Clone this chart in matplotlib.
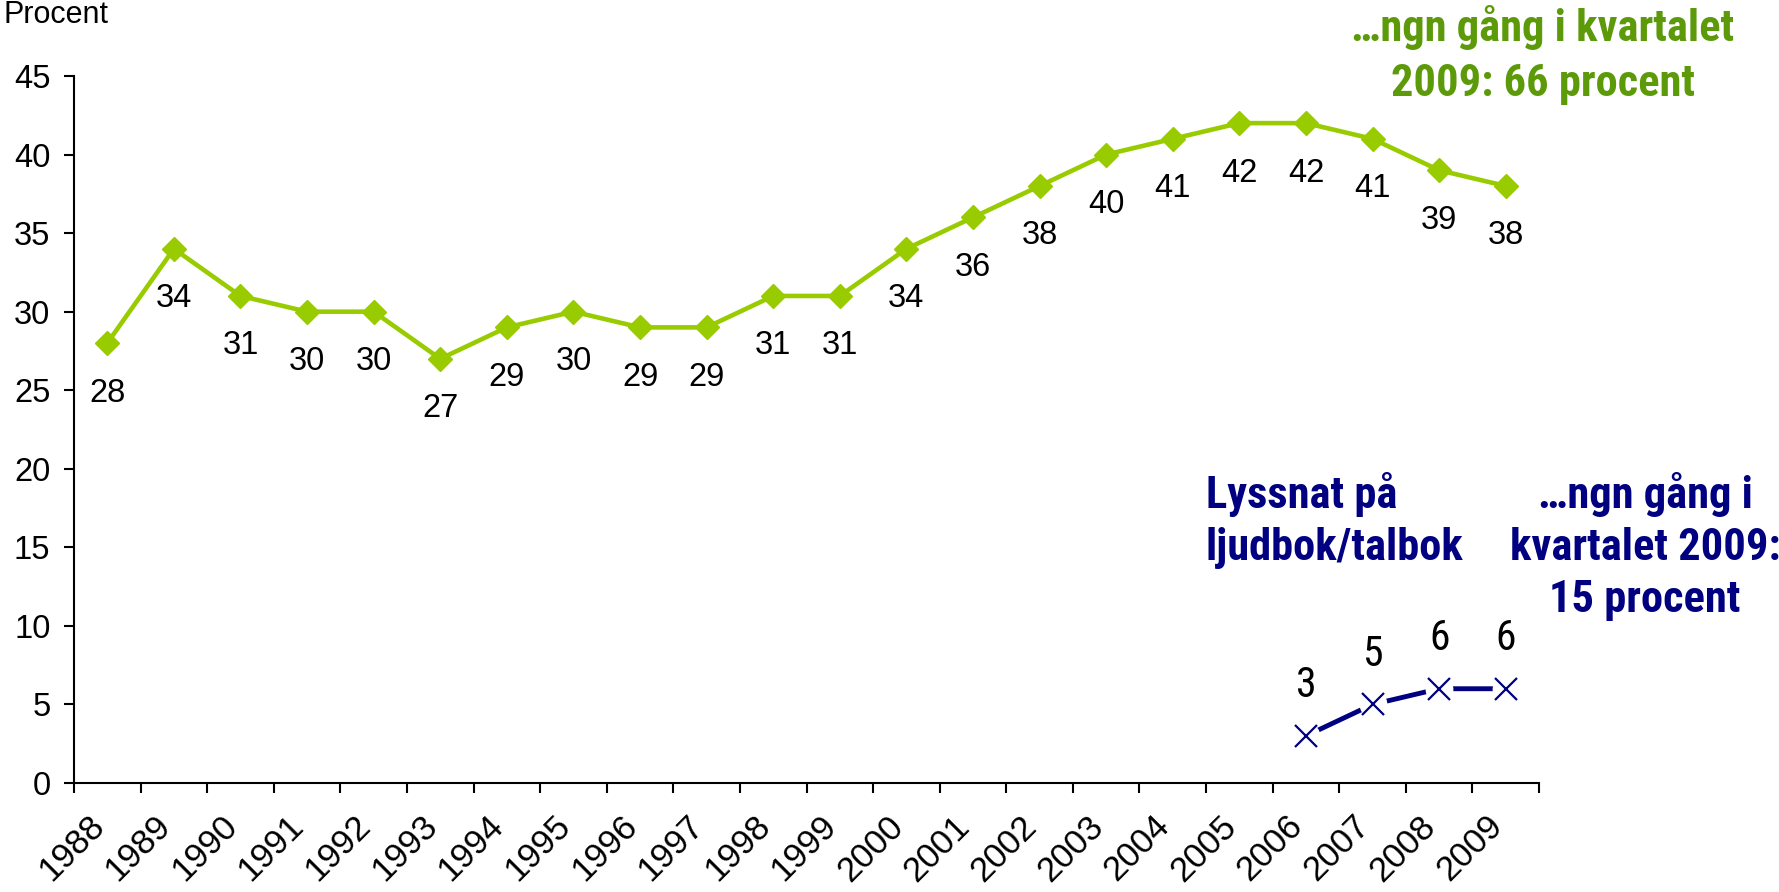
import matplotlib
matplotlib.use("Agg")
from matplotlib import pyplot as plt
import matplotlib.ticker as mticker
import matplotlib.transforms as mtrans
from matplotlib import font_manager

# DATA
years = [str(y) for y in range(1988, 2010)]
read_any = [28, 34, 31, 30, 30, 27, 29, 30, 29, 29, 31, 31,
            34, 36, 38, 40, 41, 42, 42, 41, 39, 38]
audio_years = ["2006", "2007", "2008", "2009"]
audio_book = [3, 5, 6, 6]
y_ticks = [0, 5, 10, 15, 20, 25, 30, 35, 40, 45]

GREEN = "#99CC00"
GREEN_TXT = "#5C9A0A"
NAVY = "#000080"


def pick_narrow():
    """
        look for a condensed sans font, like Arial Narrow
    """
    names = {f.name for f in font_manager.fontManager.ttflist}
    for cand in ["Liberation Sans Narrow", "Arial Narrow", "Roboto Condensed",
                 "Noto Sans Condensed", "Open Sans Condensed",
                 "DejaVu Sans Condensed", "Noto Sans SemiCondensed"]:
        if cand in names:
            return cand, "normal"
    for f in font_manager.fontManager.ttflist:
        if f.stretch in ("condensed", "semi-condensed", 75, 87.5) \
                and f.name in ("Noto Sans", "Roboto", "Open Sans", "DejaVu Sans"):
            return f.name, "condensed"
    return None, "normal"


narrow_name, narrow_stretch = pick_narrow()
NARROW = ([narrow_name] if narrow_name else []) + ["Liberation Sans", "DejaVu Sans"]
# without a narrow face the bold text has to be smaller to keep its width
BIG = 32 if narrow_name else 26

plt.rcParams["font.family"] = ["Liberation Sans", "DejaVu Sans"]

# SET PLOT
fig = plt.figure(figsize=(17.79, 8.92), dpi=100)
ax = fig.add_axes([0.0416, 0.1222, 0.8235, 0.7926])

xi = list(range(len(years)))
ax_idx = [years.index(y) for y in audio_years]

# green series
ax.plot(xi, read_any, color=GREEN, lw=3.3, marker="D", ms=12,
        mfc=GREEN, mec=GREEN, zorder=3)
for i, v in zip(xi, read_any):
    ax.annotate(str(v), (i, v), xytext=(0, -36), textcoords="offset points",
                ha="center", va="center", fontsize=23.5, color="black")

# blue series, with a gap round each cross like the original
ax.plot(ax_idx, audio_book, color=NAVY, lw=3.5, zorder=3)
ax.plot(ax_idx, audio_book, ls="none", marker="o", ms=20, mfc="white",
        mec="none", zorder=4)
ax.plot(ax_idx, audio_book, ls="none", marker="x", ms=16, mew=1.6,
        color=NAVY, zorder=5)
for i, v in zip(ax_idx, audio_book):
    ax.annotate(str(v), (i, v), xytext=(0, 36), textcoords="offset points",
                ha="center", va="center", fontsize=30 if narrow_name else 27,
                color="black", family=NARROW, fontstretch=narrow_stretch)

# AXES
ax.set_xlim(-0.5, len(years) - 0.5)
ax.set_ylim(0, 45)
ax.set_yticks(y_ticks)
ax.set_xticks(xi)
ax.set_xticklabels(years, rotation=45, ha="right", va="top",
                   rotation_mode="anchor")
ax.xaxis.set_minor_locator(mticker.FixedLocator(
    [i - 0.5 for i in range(len(years) + 1)]))
ax.tick_params(axis="x", which="major", length=0, pad=19, labelsize=25)
ax.tick_params(axis="x", which="minor", length=7, width=1.5, direction="out")
ax.tick_params(axis="y", length=7, width=1.5, pad=10, labelsize=23.5)
# shift after tick_params, which resets the label transforms
shift = mtrans.ScaledTranslation(-20 / 100, 0, fig.dpi_scale_trans)
for lab in ax.get_xticklabels():
    lab.set_transform(lab.get_transform() + shift)
for s in ["top", "right"]:
    ax.spines[s].set_visible(False)
for s in ["left", "bottom"]:
    ax.spines[s].set_linewidth(1.5)

# TEXTS
fig.text(0.002, 1 - 23 / 892, "Procent", fontsize=22, va="baseline")
txt_kw = dict(fontsize=BIG, fontweight="bold", family=NARROW,
              fontstretch=narrow_stretch, va="top")
fig.text(1543 / 1779, 1 - 5 / 892, "\u2026ngn gång i kvartalet\n2009: 66 procent",
         ha="center", multialignment="center", color=GREEN_TXT,
         linespacing=1.4, **txt_kw)
fig.text(1206 / 1779, 1 - 472 / 892, "Lyssnat på\nljudbok/talbok",
         ha="left", color=NAVY, linespacing=1.31, **txt_kw)
fig.text(1645 / 1779, 1 - 472 / 892, "\u2026ngn gång i\nkvartalet 2009:\n15 procent",
         ha="center", multialignment="center", color=NAVY,
         linespacing=1.31, **txt_kw)

fig.savefig("out.png", dpi=100)
